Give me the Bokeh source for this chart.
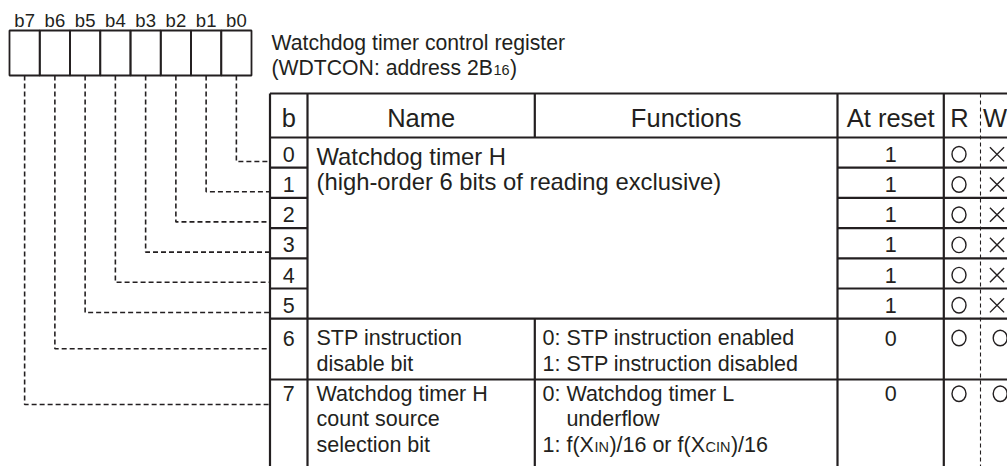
import numpy as np
from bokeh.plotting import figure
from bokeh.models import Range1d, ColumnDataSource
from bokeh.embed import file_html
from bokeh.resources import INLINE
from bokeh.core.properties import value

# ---------------- data ----------------
bit_labels = ["b7", "b6", "b5", "b4", "b3", "b2", "b1", "b0"]
row_bits = ["0", "1", "2", "3", "4", "5", "6", "7"]
reset_values = ["1", "1", "1", "1", "1", "1", "0", "0"]
read_access = ["O", "O", "O", "O", "O", "O", "O", "O"]
write_access = ["X", "X", "X", "X", "X", "X", "O", "O"]
header_labels = ["b", "Name", "Functions", "At reset", "R", "W"]
title_line1 = "Watchdog timer control register"
title_line2 = ["(WDTCON: address 2B", "16", ")"]
name_bits0_5 = ["Watchdog timer H", "(high-order 6 bits of reading exclusive)"]
name_bit6 = ["STP instruction", "disable bit"]
func_bit6 = ["0: STP instruction enabled", "1: STP instruction disabled"]
name_bit7 = ["Watchdog timer H", "count source", "selection bit"]
func_bit7_l1 = "0: Watchdog timer L"
func_bit7_l2 = "underflow"
func_bit7_l3 = ["1: f(X", "IN", ")/16 or f(X", "CIN", ")/16"]

# ---------------- styling / layout ----------------
INK = "#231f20"
FONT = "Liberation Sans"
CAP = 0.358  # cap-centre height above baseline, in em
ARIAL = {' ': 278, '(': 333, ')': 333, ':': 278, '/': 278, '0': 556, '1': 556,
         '2': 556, '6': 556, 'A': 667, 'B': 667, 'C': 722, 'D': 722, 'I': 278,
         'N': 722, 'O': 778, 'T': 611, 'W': 944, 'X': 667, 'a': 556, 'd': 556,
         'e': 556, 'f': 278, 'o': 556, 'r': 333, 's': 500}


def tw(s, size):
    return sum(ARIAL.get(c, 556) for c in s) * size / 1000.0


W_PX, H_PX = 1007, 466
p = figure(width=W_PX, height=H_PX, x_range=Range1d(0, W_PX), y_range=Range1d(H_PX, 0),
           output_backend="svg", toolbar_location=None, min_border=0,
           x_axis_type=None, y_axis_type=None, outline_line_color=None,
           background_fill_color="white", border_fill_color="white")
p.grid.visible = False


def txt(xs, baselines, texts, size, align="left"):
    ys = [b - CAP * size for b in baselines]
    src = ColumnDataSource(dict(x=list(xs), y=ys, t=list(texts)))
    p.text(x="x", y="y", text="t", source=src, text_font=value(FONT),
           text_font_size=value(f"{size}px"), text_align=align,
           text_baseline="middle", text_color=INK)


SZ_BODY, SZ_BIG, SZ_HDR, SZ_TITLE, SZ_SMALL, SZ_BITS = 21.5, 23.8, 25.5, 21.2, 14.5, 18.5

# register boxes
reg_x0, cell_w, reg_top, reg_bot = 9.0, 30.25, 30.0, 75.0
lefts = reg_x0 + cell_w * np.arange(len(bit_labels))
centers = lefts + cell_w / 2
p.quad(left=lefts, right=lefts + cell_w, top=reg_top, bottom=reg_bot,
       fill_alpha=0, line_color=INK, line_width=1.8)
txt(centers, [26.5] * len(bit_labels), bit_labels, SZ_BITS, "center")

# title
tx = 271.0
txt([tx], [50.0], [title_line1], SZ_TITLE)
x1 = tx + tw(title_line2[0], SZ_TITLE) + 0.5
x2 = x1 + tw(title_line2[1], SZ_SMALL) + 0.5
txt([tx, x2], [75.0, 75.0], [title_line2[0], title_line2[2]], SZ_TITLE)
txt([x1], [75.0], [title_line2[1]], SZ_SMALL)

# table geometry
cols = [269.5, 307.0, 534.3, 837.0, 943.3, 980.0, 1013.0]
hdr_top, hdr_bot, tbl_bot = 93.0, 137.0, 472.0
row_h = [30.2] * 6 + [60.8, 91.0]
row_tops = hdr_bot + np.concatenate([[0], np.cumsum(row_h)[:-1]])
conn_off = np.array([24.0] * 6 + [30.0, 25.0])
num_base_off = np.array([24.5] * 6 + [27.0, 22.0])

# table lines
x0s, y0s, x1s, y1s = [], [], [], []
for y in [hdr_top, hdr_bot, row_tops[6], row_tops[7]]:
    x0s += [cols[0]]; x1s += [cols[-1]]; y0s += [y]; y1s += [y]
for y in row_tops[1:6]:
    x0s += [cols[0], cols[3]]; x1s += [cols[1], cols[-1]]; y0s += [y, y]; y1s += [y, y]
for x in [cols[0], cols[1], cols[3], cols[4], cols[-1]]:
    x0s += [x]; x1s += [x]; y0s += [hdr_top]; y1s += [tbl_bot]
x0s += [cols[2], cols[2]]; x1s += [cols[2], cols[2]]
y0s += [hdr_top, row_tops[6]]; y1s += [hdr_bot, tbl_bot]
p.segment(x0=x0s, y0=y0s, x1=x1s, y1=y1s, line_color=INK, line_width=2.2)
p.segment(x0=[cols[5]], y0=[hdr_top], x1=[cols[5]], y1=[tbl_bot],
          line_color=INK, line_width=1.1, line_dash="4 3")

# header labels
hdr_x = [(cols[i] + cols[i + 1]) / 2 for i in range(6)]
hdr_x[4] = 959.0
hdr_x[5] = 994.5
txt(hdr_x, [126.5] * 6, header_labels, SZ_HDR, "center")

# connectors from register bits to table rows
nbits = len(row_bits)
xs, ys = [], []
for b in range(nbits):
    cx = centers[nbits - 1 - b]
    cy = row_tops[b] + conn_off[b]
    xs.append([cx, cx, cols[0]])
    ys.append([reg_bot, cy, cy])
p.multi_line(xs=xs, ys=ys, line_color=INK, line_width=1.6, line_dash="5 3")

# bit numbers and reset values
num_y = row_tops + num_base_off
txt([(cols[0] + cols[1]) / 2] * nbits, num_y, row_bits, SZ_BODY, "center")
txt([(cols[3] + cols[4]) / 2] * nbits, num_y, reset_values, SZ_BODY, "center")

# R / W marks
mark_y = num_y - CAP * SZ_BODY
r_x, w_x, wo_x = 958.5, 996.5, 999.7
ro = [i for i, a in enumerate(read_access) if a == "O"]
wo = [i for i, a in enumerate(write_access) if a == "O"]
wx = [i for i, a in enumerate(write_access) if a == "X"]
p.ellipse(x=[r_x] * len(ro) + [wo_x] * len(wo), y=list(mark_y[ro]) + list(mark_y[wo]),
          width=14.0, height=15.5, fill_alpha=0, line_color=INK, line_width=1.4)
p.scatter(x=[w_x] * len(wx), y=mark_y[wx], marker="x", size=20,
          line_color=INK, line_width=1.4)

# name / function texts
name_x, func_x = 316.0, 542.0
gap = 25.5
b0 = row_tops[0] + 27.5
txt([name_x] * 2, [b0, b0 + gap], name_bits0_5, SZ_BIG)
b6 = row_tops[6] + 27.0
txt([name_x] * 2, [b6, b6 + gap], name_bit6, SZ_BODY)
txt([func_x] * 2, [b6, b6 + gap], func_bit6, SZ_BODY)
b7 = row_tops[7] + 22.0
txt([name_x] * 3, [b7, b7 + gap, b7 + 2 * gap], name_bit7, SZ_BODY)
indent = func_x + tw("0: ", SZ_BODY)
txt([func_x, indent], [b7, b7 + gap], [func_bit7_l1, func_bit7_l2], SZ_BODY)
# line 3 with small-caps subscripts
sizes = [SZ_BODY, SZ_SMALL, SZ_BODY, SZ_SMALL, SZ_BODY]
pos = [func_x]
for seg, sz in zip(func_bit7_l3[:-1], sizes[:-1]):
    pos.append(pos[-1] + tw(seg, sz) + 0.5)
big = [i for i, s in enumerate(sizes) if s == SZ_BODY]
small = [i for i, s in enumerate(sizes) if s == SZ_SMALL]
txt([pos[i] for i in big], [b7 + 2 * gap] * len(big), [func_bit7_l3[i] for i in big], SZ_BODY)
txt([pos[i] for i in small], [b7 + 2 * gap] * len(small), [func_bit7_l3[i] for i in small], SZ_SMALL)

open("out.html", "w").write(file_html(p, INLINE))
